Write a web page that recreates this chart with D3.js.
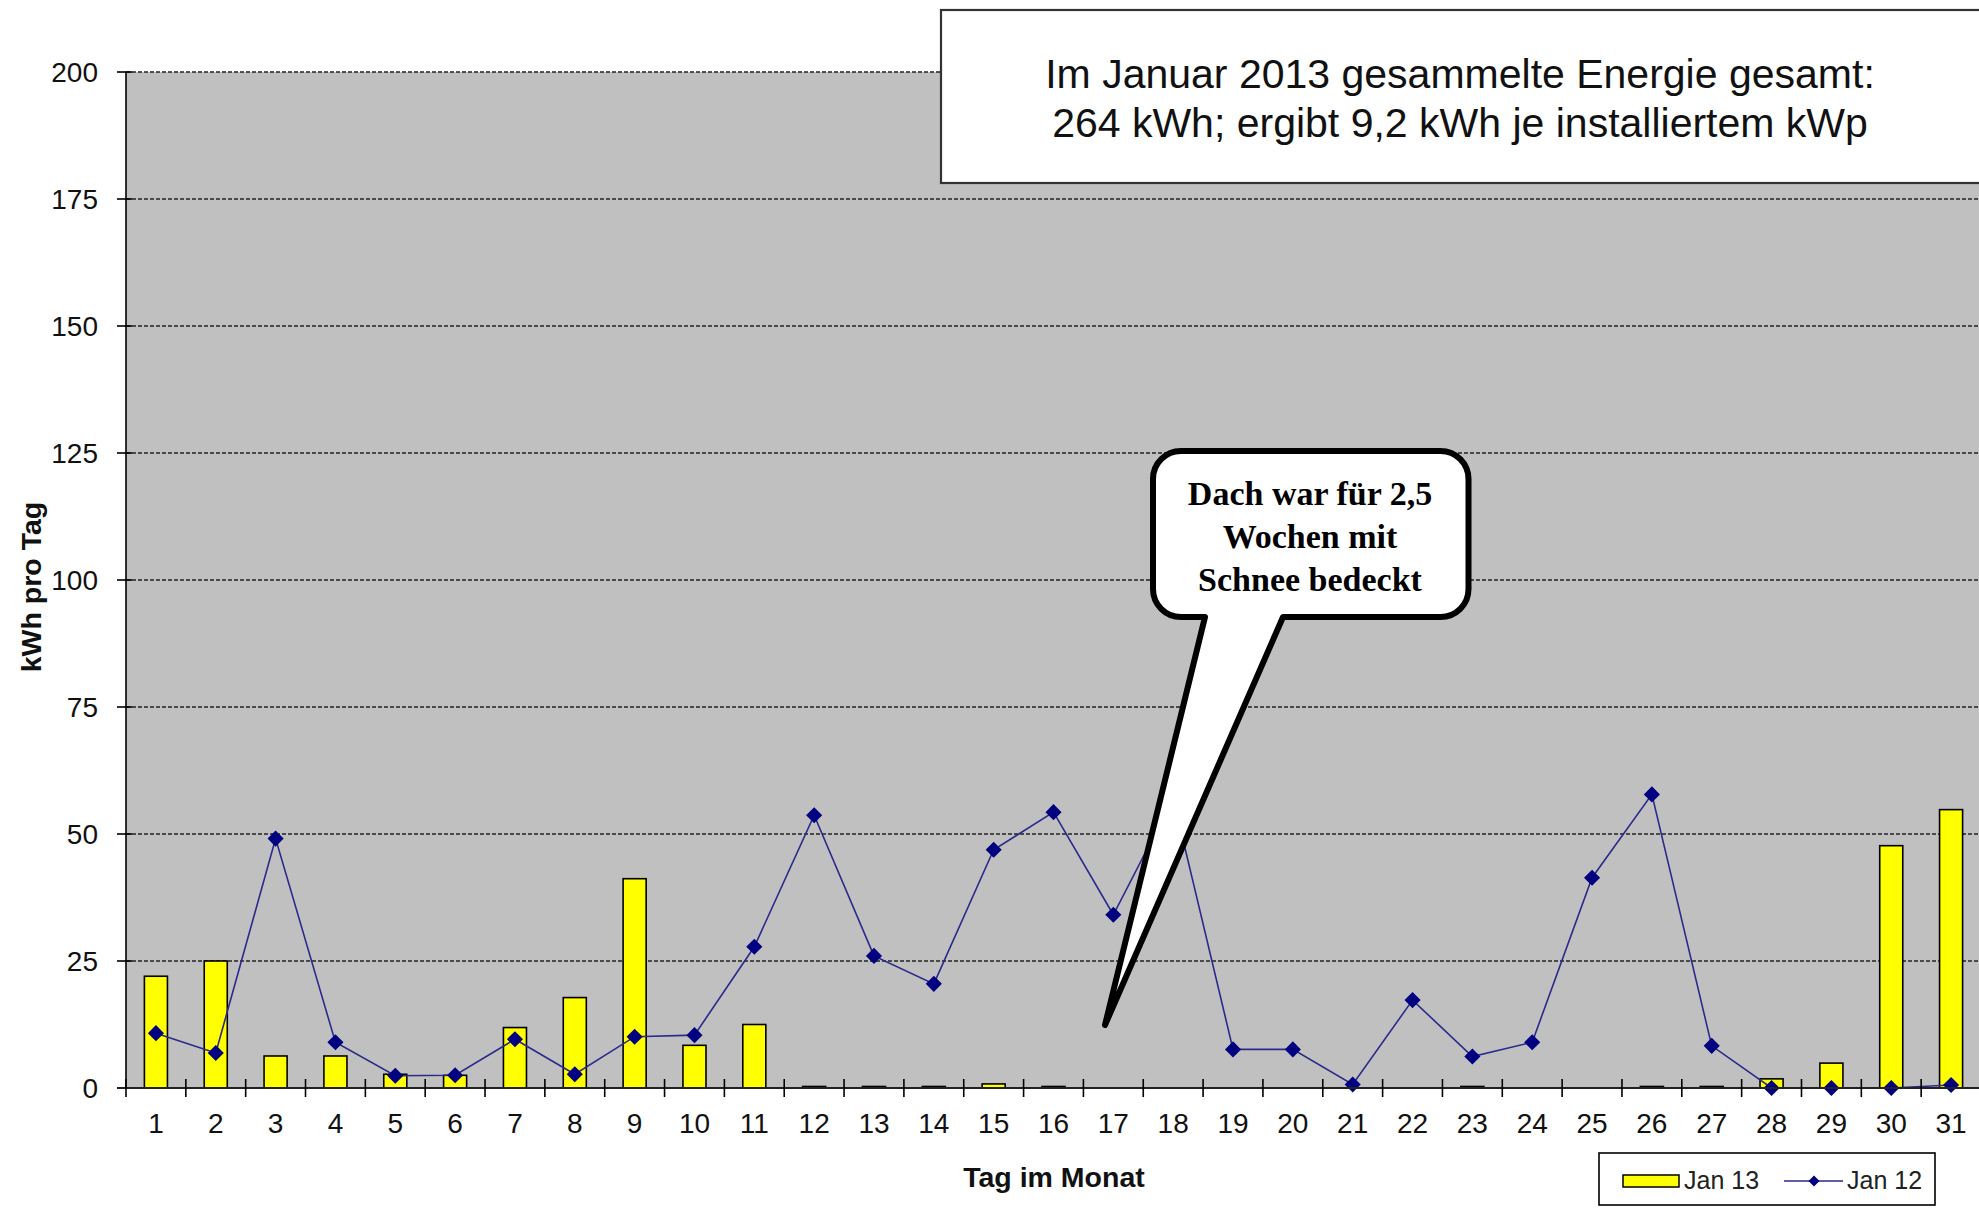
<!DOCTYPE html>
<html>
<head>
<meta charset="utf-8">
<script src="https://cdn.jsdelivr.net/npm/d3@7"></script>
<style>
  body { margin: 0; background: #fff; }
  svg { display: block; font-family: "Liberation Sans", Arial, sans-serif; }
</style>
</head>
<body>
<svg width="1979" height="1208"></svg>
<script>
// ===================== DATA =====================
const days = d3.range(1, 32).map(String);
// Jan 13 (bars), kWh per day
const jan13 = [22, 25, 6.3, 6.3, 2.7, 2.5, 11.9, 17.8, 41.2, 8.4, 12.5, 0.3, 0.3, 0.3, 0.8, 0.3,
               0, 0, 0, 0, 0, 0, 0.3, 0, 0, 0.3, 0.3, 1.8, 4.9, 47.7, 54.8];
// Jan 12 (line), kWh per day
const jan12 = [10.8, 6.9, 49.1, 9.0, 2.4, 2.5, 9.6, 2.7, 10.1, 10.4, 27.8, 53.7, 26.0, 20.5, 46.9, 54.3,
               34.1, 57, 7.6, 7.6, 0.7, 17.3, 6.2, 9.0, 41.4, 57.8, 8.3, 0, 0, 0, 0.6];
const yTicks = [0, 25, 50, 75, 100, 125, 150, 175, 200];
const seriesNames = ["Jan 13", "Jan 12"];
const titleLines = ["Im Januar 2013 gesammelte Energie gesamt:", "264 kWh; ergibt 9,2 kWh je installiertem kWp"];
const noteLines = ["Dach war für 2,5", "Wochen mit", "Schnee bedeckt"];

// ===================== SCALES =====================
const svg = d3.select("svg");
const plot = { left: 126, right: 1981, top: 72, bottom: 1088 };

const x = d3.scaleBand().domain(days).range([plot.left, plot.right]);
const y = d3.scaleLinear().domain([0, 200]).range([plot.bottom, plot.top]);
const barW = x.bandwidth() * 0.385;
const cx = d => x(d) + x.bandwidth() / 2;

// plot area
svg.append("rect")
  .attr("x", plot.left).attr("y", plot.top)
  .attr("width", plot.right - plot.left).attr("height", plot.bottom - plot.top)
  .attr("fill", "#c0c0c0");

// grid lines
svg.append("g").selectAll("line")
  .data(yTicks.filter(t => t > 0))
  .enter().append("line")
  .attr("x1", plot.left).attr("x2", plot.right)
  .attr("y1", d => y(d)).attr("y2", d => y(d))
  .attr("stroke", "#222").attr("stroke-width", 1.3)
  .attr("stroke-dasharray", "4,2");

// ===================== BARS =====================
svg.append("g").selectAll("rect")
  .data(days.map((d, i) => ({ day: d, v: jan13[i] })).filter(d => d.v > 0))
  .enter().append("rect")
  .attr("x", d => cx(d.day) - barW / 2)
  .attr("y", d => y(d.v))
  .attr("width", barW)
  .attr("height", d => y(0) - y(d.v))
  .attr("fill", "#ffff00")
  .attr("stroke", "#000").attr("stroke-width", 1.6);

// ===================== LINE =====================
const line = d3.line().x((d, i) => cx(days[i])).y(d => y(d));
svg.append("path")
  .datum(jan12)
  .attr("d", line)
  .attr("fill", "none")
  .attr("stroke", "#2a2a8c").attr("stroke-width", 1.6);

const diamond = d3.symbol(d3.symbolSquare, 130);
svg.append("g").selectAll("path")
  .data(jan12)
  .enter().append("path")
  .attr("d", diamond)
  .attr("transform", (d, i) => `translate(${cx(days[i])},${y(d)}) rotate(45)`)
  .attr("fill", "#000080");

// ===================== AXES =====================
// y axis
svg.append("line")
  .attr("x1", plot.left).attr("x2", plot.left)
  .attr("y1", plot.top).attr("y2", plot.bottom)
  .attr("stroke", "#000").attr("stroke-width", 1.6);

const yAxis = svg.append("g");
yAxis.selectAll("line")
  .data(yTicks)
  .enter().append("line")
  .attr("x1", plot.left - 9).attr("x2", plot.left + 6)
  .attr("y1", d => y(d)).attr("y2", d => y(d))
  .attr("stroke", "#000").attr("stroke-width", 1.6);
yAxis.selectAll("text")
  .data(yTicks)
  .enter().append("text")
  .attr("x", 98).attr("y", d => y(d))
  .attr("dy", "0.35em")
  .attr("text-anchor", "end")
  .attr("font-size", 28)
  .attr("fill", "#111")
  .text(d => d);

// x axis
svg.append("line")
  .attr("x1", plot.left - 9).attr("x2", plot.right)
  .attr("y1", plot.bottom).attr("y2", plot.bottom)
  .attr("stroke", "#222").attr("stroke-width", 2);

const xAxis = svg.append("g");
xAxis.selectAll("line")
  .data(d3.range(days.length + 1))
  .enter().append("line")
  .attr("x1", i => plot.left + i * x.step()).attr("x2", i => plot.left + i * x.step())
  .attr("y1", plot.bottom - 9).attr("y2", plot.bottom + 9)
  .attr("stroke", "#000").attr("stroke-width", 1.6);
xAxis.selectAll("text")
  .data(days)
  .enter().append("text")
  .attr("x", d => cx(d)).attr("y", 1133)
  .attr("text-anchor", "middle")
  .attr("font-size", 28)
  .attr("fill", "#111")
  .text(d => d);

// axis titles
svg.append("text")
  .attr("x", 1054).attr("y", 1187)
  .attr("text-anchor", "middle")
  .attr("font-size", 28.5).attr("font-weight", "bold")
  .attr("fill", "#111")
  .text("Tag im Monat");

svg.append("text")
  .attr("transform", "translate(41,587) rotate(-90)")
  .attr("text-anchor", "middle")
  .attr("font-size", 28.5).attr("font-weight", "bold")
  .attr("fill", "#111")
  .text("kWh pro Tag");

// ===================== LEGEND =====================
const legend = svg.append("g");
legend.append("rect")
  .attr("x", 1599).attr("y", 1153).attr("width", 336).attr("height", 52)
  .attr("fill", "#fff").attr("stroke", "#000").attr("stroke-width", 1.6);
legend.append("rect")
  .attr("x", 1623).attr("y", 1175).attr("width", 56).attr("height", 12)
  .attr("fill", "#ffff00").attr("stroke", "#000").attr("stroke-width", 1.5);
legend.append("line")
  .attr("x1", 1784).attr("x2", 1843).attr("y1", 1181).attr("y2", 1181)
  .attr("stroke", "#2a2a8c").attr("stroke-width", 1.6);
legend.append("path")
  .attr("d", d3.symbol(d3.symbolSquare, 60))
  .attr("transform", "translate(1814,1181) rotate(45)")
  .attr("fill", "#000080");
legend.selectAll("text")
  .data(seriesNames)
  .enter().append("text")
  .attr("x", (d, i) => i == 0 ? 1684 : 1847)
  .attr("y", 1189)
  .attr("font-size", 25)
  .attr("fill", "#222")
  .text(d => d);

// ===================== TITLE BOX =====================
svg.append("rect")
  .attr("x", 941).attr("y", 10).attr("width", 1060).attr("height", 173)
  .attr("fill", "#fff").attr("stroke", "#333").attr("stroke-width", 2.2);
svg.append("g").selectAll("text")
  .data(titleLines)
  .enter().append("text")
  .attr("x", 1460).attr("y", (d, i) => 88 + i * 49)
  .attr("text-anchor", "middle")
  .attr("font-size", 41)
  .attr("fill", "#111")
  .text(d => d);

// ===================== CALLOUT =====================
const L = 1153, R = 1468.5, T = 451, B = 617, r = 28;
const callout = d3.path();
callout.moveTo(L + r, T);
callout.lineTo(R - r, T);
callout.arcTo(R, T, R, T + r, r);
callout.lineTo(R, B - r);
callout.arcTo(R, B, R - r, B, r);
callout.lineTo(1283, B);
callout.lineTo(1105, 1025);
callout.lineTo(1205, B);
callout.lineTo(L + r, B);
callout.arcTo(L, B, L, B - r, r);
callout.lineTo(L, T + r);
callout.arcTo(L, T, L + r, T, r);
callout.closePath();

svg.append("path")
  .attr("d", callout.toString())
  .attr("fill", "#fff")
  .attr("stroke", "#000").attr("stroke-width", 6)
  .attr("stroke-linejoin", "round");

svg.append("g").selectAll("text")
  .data(noteLines)
  .enter().append("text")
  .attr("x", 1310).attr("y", (d, i) => 505 + i * 43)
  .attr("text-anchor", "middle")
  .attr("font-family", "'Liberation Serif', 'Times New Roman', serif")
  .attr("font-weight", "bold")
  .attr("font-size", 34)
  .attr("fill", "#000")
  .text(d => d);
</script>
</body>
</html>
